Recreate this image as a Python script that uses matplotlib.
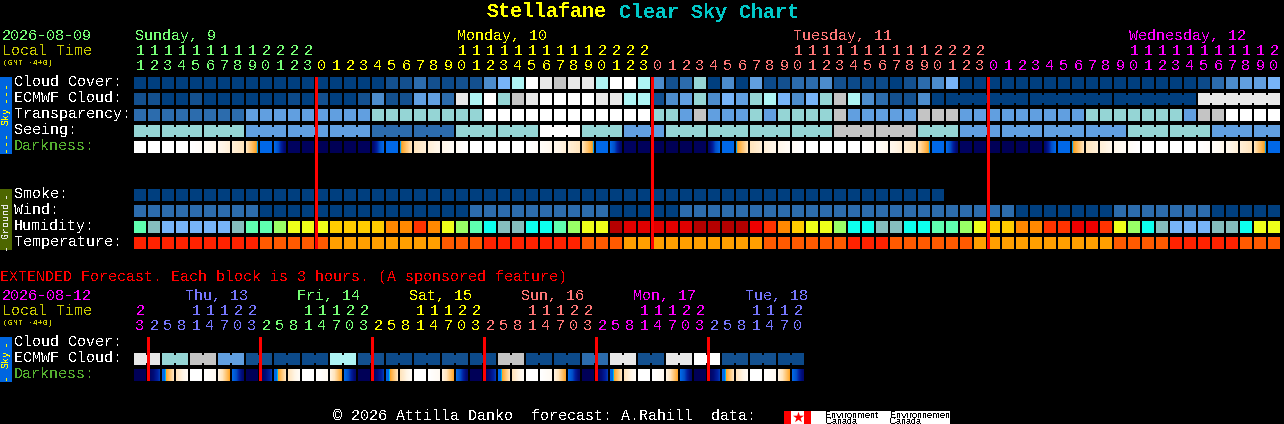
import matplotlib
matplotlib.use("Agg")
import matplotlib.pyplot as plt
from matplotlib.colors import LinearSegmentedColormap
import numpy as np

plt.rcParams["text.hinting"] = "native"
plt.rcParams["text.hinting_factor"] = 1

# hours along the top, one per block
hours = [11, 12, 13, 14, 15, 16, 17, 18, 19, 20, 21, 22, 23,
         0, 1, 2, 3, 4, 5, 6, 7, 8, 9, 10, 11, 12, 13, 14, 15, 16, 17, 18, 19, 20, 21, 22, 23,
         0, 1, 2, 3, 4, 5, 6, 7, 8, 9, 10, 11, 12, 13, 14, 15, 16, 17, 18, 19, 20, 21, 22, 23,
         0, 1, 2, 3, 4, 5, 6, 7, 8, 9, 10, 11, 12, 13, 14, 15, 16, 17, 18, 19, 20]
day_blocks = [13, 24, 24, 21]
day_names = ["Sunday, 9", "Monday, 10", "Tuesday, 11", "Wednesday, 12"]
day_label_cols = [0, 23, 47, 71]

ext_hours = [23,
             2, 5, 8, 11, 14, 17, 20, 23,
             2, 5, 8, 11, 14, 17, 20, 23,
             2, 5, 8, 11, 14, 17, 20, 23,
             2, 5, 8, 11, 14, 17, 20, 23,
             2, 5, 8, 11, 14, 17, 20, 23,
             2, 5, 8, 11, 14, 17, 20]
ext_day_blocks = [1, 8, 8, 8, 8, 8, 7]
ext_day_names = ["Thu, 13", "Fri, 14", "Sat, 15", "Sun, 16", "Mon, 17", "Tue, 18"]
ext_day_label_cols = [4, 12, 20, 28, 36, 44]

# sky rows, as indexes into sky_colors
cloud = [0, 0, 0, 0, 0, 0, 0, 0, 0, 0, 0, 0, 0, 0, 0, 0, 0, 0, 2, 2, 3,
         2, 1, 2, 2, 4, 6, 8, 11, 10, 9, 10, 10, 8, 11, 11, 8,
         4, 2, 3, 7, 0, 4, 0, 5, 1, 2, 3, 3, 4, 2, 1,
         1, 1, 0, 2, 3, 4, 6, 0, 0,
         0, 0, 0, 0, 0, 0, 0, 0, 0, 0, 0, 0, 0, 0, 0,
         1, 3, 4, 5, 5, 6]
ecmwf = [2, 2, 0, 0, 2, 0, 0, 0, 0, 0, 0, 1, 0, 2, 0, 0, 2, 4, 2, 2, 5,
         5, 3, 10, 8, 11, 7, 9, 10, 11, 11, 11, 11, 10, 10, 8, 8,
         2, 4, 5, 7, 4, 6, 5, 7, 8, 6, 4, 6, 7, 9, 8,
         4, 3, 2, 2, 4, 0,
         0, 0, 0, 10]
ecmwf_spans = [1] * 58 + [6] * 4
transparency = [3] * 8 + [5] * 9 + [7] * 8 + [11] * 12 + [7, 7, 5, 9, 5, 5, 5, 7, 5, 7, 7, 7, 7, 9] \
    + [5] * 5 + [9] * 3 + [5] * 9 + [7] * 7 + [5, 9, 9, 11, 11, 11, 11]
seeing = [7, 7, 7, 5, 5, 5, 3, 3, 7, 7, 11, 7, 5, 7, 7, 7, 7, 9, 9, 7, 5, 5, 5, 5, 7, 7, 5, 5]
seeing_spans = [2] + [3] * 26 + [2]

# darkness, value at the left and right edge of each block (0 = day, 1 = deep night)
dark_left = [0, 0, 0, 0, 0, .03, .08, .14,
             .2, .42, .42, .86, .88, .9, .92, .9, .88, .8, .42, .37, .2, .14, .09, .04,
             0, 0, 0, 0, 0, .03, .08, .14,
             .2, .42, .42, .86, .88, .9, .92, .9, .88, .8, .42, .37, .2, .14, .09, .04,
             0, 0, 0, 0, 0, .03, .08, .14,
             .2, .42, .42, .86, .88, .9, .92, .9, .88, .8, .42, .37, .2, .14, .09, .04,
             0, 0, 0, 0, 0, .03, .08, .14,
             .2, .42]
dark_right = [0, 0, 0, 0, .03, .08, .14, .2,
              .37, .42, .8, .86, .88, .9, .92, .9, .88, .42, .42, .2, .14, .09, .04, 0,
              0, 0, 0, 0, .03, .08, .14, .2,
              .37, .42, .8, .86, .88, .9, .92, .9, .88, .42, .42, .2, .14, .09, .04, 0,
              0, 0, 0, 0, .03, .08, .14, .2,
              .37, .42, .8, .86, .88, .9, .92, .9, .88, .42, .42, .2, .14, .09, .04, 0,
              0, 0, 0, 0, .03, .08, .14, .2,
              .37, .42]

# ground rows
smoke = [0] * 58
wind = [3] * 9 + [0] * 15 + [3] * 10 + [0] * 5 + [3] * 24 + [0] * 7 + [3] * 7 + [0] * 5
humidity = ["mint", "grey", "sky", "sky", "sky", "sky", "sky", "grey", "mint", "mint", "lime", "yel", "yel", "yel",
            "gold", "gold", "gold", "gold", "org", "org", "rorg", "org", "yel", "lime", "mint", "cyan", "grey", "grey",
            "cyan", "cyan", "mint", "lime", "yel", "yel", "dred", "red", "red", "red", "red", "red",
            "dred", "dred", "dred", "dred", "bred", "rorg", "org", "gold", "yel", "yel", "lime", "cyan",
            "cyan", "grey", "grey", "cyan", "cyan", "mint", "mint", "lime", "yel", "gold", "gold", "org", "org",
            "rorg", "rorg", "bred", "bred", "rorg", "yel", "lime", "cyan", "grey", "sky", "sky", "sky", "grey", "grey",
            "cyan", "yel", "yel"]
temperature = ["r"] * 9 + ["o"] * 5 + ["a"] * 8 + ["o"] * 3 + ["r"] * 7 + ["o"] * 3 + ["a"] * 10 + ["o"] * 6 \
    + ["r"] * 3 + ["o"] * 6 + ["a"] * 10 + ["o"] * 4 + ["r"] * 5 + ["o"] * 3

# extended forecast
ext_ecmwf = [10, 7, 9, 5, 2, 1, 1, 8, 2, 1, 1, 2, 1, 9, 1, 1, 3, 10, 2, 10, 11, 2, 2, 1]
ext_spans = [2] * 24
ext_dark_left = [.9, .88, .42, .2, 0, 0, .12, .42,
                 .9, .88, .42, .2, 0, 0, .12, .42,
                 .9, .88, .42, .2, 0, 0, .12, .42,
                 .9, .88, .42, .2, 0, 0, .12, .42,
                 .9, .88, .42, .2, 0, 0, .12, .42,
                 .9, .88, .42, .2, 0, 0, .12, .42]
ext_dark_right = [.9, .6, .2, .04, 0, .06, .34, .8,
                  .9, .6, .2, .04, 0, .06, .34, .8,
                  .9, .6, .2, .04, 0, .06, .34, .8,
                  .9, .6, .2, .04, 0, .06, .34, .8,
                  .9, .6, .2, .04, 0, .06, .34, .8,
                  .9, .6, .2, .04, 0, .06, .34, .8]

# colours
sky_colors = ["#003f7f", "#0c4a8a", "#13508f", "#2c6cad", "#4c8ccc", "#619fe0",
              "#77b4f8", "#95d5d5", "#aef4f4", "#c4c4c4", "#e8e8e8", "#ffffff"]
hum_colors = {"sky": "#77b4f8", "grey": "#85bebe", "cyan": "#0dffee", "mint": "#5fffb0", "lime": "#99ff66",
              "yel": "#eeff1a", "gold": "#ffcc00", "org": "#ff8800", "rorg": "#ff3300",
              "bred": "#ee0000", "red": "#e00000", "dred": "#b50000"}
temp_colors = {"r": "#ff2200", "o": "#ff5a00", "a": "#ff9f00"}
day_colors = ["#77ff77", "#ffff00", "#ff7777", "#ff00ff"]
ext_day_colors = ["#ff00ff", "#7777ff", "#77ff77", "#ffff00", "#ff7777", "#ff00ff", "#7777ff"]
dark_cmap = LinearSegmentedColormap.from_list("dark", [
    (0, "#ffffff"), (.1, "#fff6e8"), (.2, "#ffe4bc"), (.32, "#ffb040"), (.352, "#ffa020"),
    (.358, "#00c8f0"), (.38, "#0068e8"), (.42, "#0068e8"), (.55, "#0050c8"), (.65, "#0020a0"),
    (.75, "#000c78"), (.9, "#000058"), (1, "#00004c")])

X0 = 134
PITCH = 14
BLOCK = 12
FONT = "Liberation Mono"

fig = plt.figure(figsize=(12.84, 4.24), dpi=100, facecolor="black")
ax = fig.add_axes([0, 0, 1, 1])
ax.set_facecolor("black")


def label(x, y, s, color="white", size=10.8, **kw):
    kw.setdefault("va", "center")
    kw.setdefault("family", FONT)
    ax.text(x, y + 1, s, color=color, fontsize=size, antialiased=False, **kw)


def draw_row(y, colors, spans=None):
    # one colour per span, blocks inside a span get joined by a narrower bridge
    if spans is None:
        spans = [1] * len(colors)
    col = 0
    for c, n in zip(colors, spans):
        xs = X0 + PITCH * np.arange(col, col + n)
        ax.bar(xs, BLOCK, width=BLOCK, bottom=y, align="edge", color=c, antialiased=False, linewidth=0)
        if n > 1:
            ax.bar(xs[:-1] + BLOCK, 8, width=PITCH - BLOCK, bottom=y + 2, align="edge", color=c,
                   antialiased=False, linewidth=0)
        col += n


def draw_dark(y, left, right):
    for i, (a, b) in enumerate(zip(left, right)):
        x = X0 + PITCH * i
        ax.imshow(np.linspace(a, b, BLOCK)[None, :], extent=(x, x + BLOCK, y + BLOCK, y), cmap=dark_cmap,
                  vmin=0, vmax=1, aspect="auto", interpolation="nearest")


def draw_hours(hrs, blocks, colors, y_tens, y_units):
    col_colors = np.repeat(colors, blocks)
    for i, h in enumerate(hrs):
        xc = X0 + PITCH * i + 6
        if h >= 10:
            label(xc, y_tens, str(h // 10), col_colors[i], ha="center")
        label(xc, y_units, str(h % 10), col_colors[i], ha="center")


def side_bar(y0, y1, color, txt_color, word, word_y, dash, dash_ys):
    ax.bar(0, y1 - y0, width=12, bottom=y0, align="edge", color=color, antialiased=False, linewidth=0)
    label(6, word_y, word, txt_color, size=7.2, rotation=90, ha="center")
    for dy in dash_ys:
        label(6, dy, dash, txt_color, size=8, rotation=90, ha="center", family="DejaVu Sans Mono")


def red_marks(xs, y, height):
    ax.bar(np.array(xs) - 1, height, width=2.5, bottom=y, align="edge", color="#ff0000", antialiased=False, linewidth=0)


# title
label(487, 11, "Stellafane", "#ffff00", size=14.4, weight="bold")
label(619, 11, "Clear Sky Chart", "#00c8c8", size=14.4, weight="bold")

# top header
label(2, 35, "2026-08-09", "#77ff77")
label(2, 50, "Local Time", "#c8c800")
label(3, 62, "(GMT -4+0)", "#c8c800", size=5.6)
for name, col, c in zip(day_names, day_label_cols, day_colors):
    label(X0 + PITCH * col + 1, 35, name, c)
draw_hours(hours, day_blocks, day_colors, 50, 65)

# sky rows
for y, s in zip([81, 97, 113, 129], ["Cloud Cover:", "ECMWF Cloud:", "Transparency:", "Seeing:"]):
    label(14, y, s)
label(14, 145, "Darkness:", "#55b030")
draw_row(77, [sky_colors[v] for v in cloud])
draw_row(93, [sky_colors[v] for v in ecmwf], ecmwf_spans)
draw_row(109, [sky_colors[v] for v in transparency])
draw_row(125, [sky_colors[v] for v in seeing], seeing_spans)
draw_dark(141, dark_left, dark_right)
side_bar(77, 154, "#0066e0", "#ffff00", "Sky", 115, "---", [90, 140])

# ground rows
for y, s in zip([193, 209, 225, 241], ["Smoke:", "Wind:", "Humidity:", "Temperature:"]):
    label(14, y, s)
draw_row(189, [sky_colors[v] for v in smoke])
draw_row(205, [sky_colors[v] for v in wind])
draw_row(221, [hum_colors[v] for v in humidity])
draw_row(237, [temp_colors[v] for v in temperature])
side_bar(189, 250, "#4d6600", "#e8e8e8", "Ground", 219, "-", [193, 246])

# midnight markers
red_marks([316, 652, 988], 77, 172)

# extended forecast
label(0, 276, "EXTENDED Forecast. Each block is 3 hours. (A sponsored feature)", "#ff0000")
label(2, 295, "2026-08-12", "#ff00ff")
label(2, 310, "Local Time", "#c8c800")
label(3, 322, "(GMT -4+0)", "#c8c800", size=5.6)
for name, col, c in zip(ext_day_names, ext_day_label_cols, ext_day_colors[1:]):
    label(X0 + PITCH * col - 5, 295, name, c)
draw_hours(ext_hours, ext_day_blocks, ext_day_colors, 310, 325)
for y, s in zip([341, 357], ["Cloud Cover:", "ECMWF Cloud:"]):
    label(14, y, s)
label(14, 373, "Darkness:", "#55b030")
draw_row(353, [sky_colors[v] for v in ext_ecmwf], ext_spans)
draw_dark(369, ext_dark_left, ext_dark_right)
side_bar(337, 382, "#0066e0", "#ffff00", "Sky", 358, "-", [342, 376])
red_marks([148, 260, 372, 484, 596, 708], 337, 44)

# footer
label(333, 415, "\u00a9 2026 Attilla Danko  forecast: A.Rahill  data:")
ax.bar(784, 13, width=166, bottom=411, align="edge", color="white", antialiased=False, linewidth=0)
ax.bar(784, 13, width=7, bottom=411, align="edge", color="#ff0000", antialiased=False, linewidth=0)
ax.bar(804, 13, width=7, bottom=411, align="edge", color="#ff0000", antialiased=False, linewidth=0)
ax.scatter([797.5], [417], marker="*", s=70, color="#ff0000", linewidth=0, antialiased=False)
label(825, 414, "Environment", "black", size=6.4, family="Liberation Sans")
label(825, 421, "Canada", "black", size=6.4, family="Liberation Sans")
label(890, 414, "Environnement", "black", size=6.4, family="Liberation Sans")
label(890, 421, "Canada", "black", size=6.4, family="Liberation Sans")

ax.set_xlim(0, 1284)
ax.set_ylim(424, 0)
ax.axis("off")
fig.savefig("out.png", dpi=100, facecolor="black")
